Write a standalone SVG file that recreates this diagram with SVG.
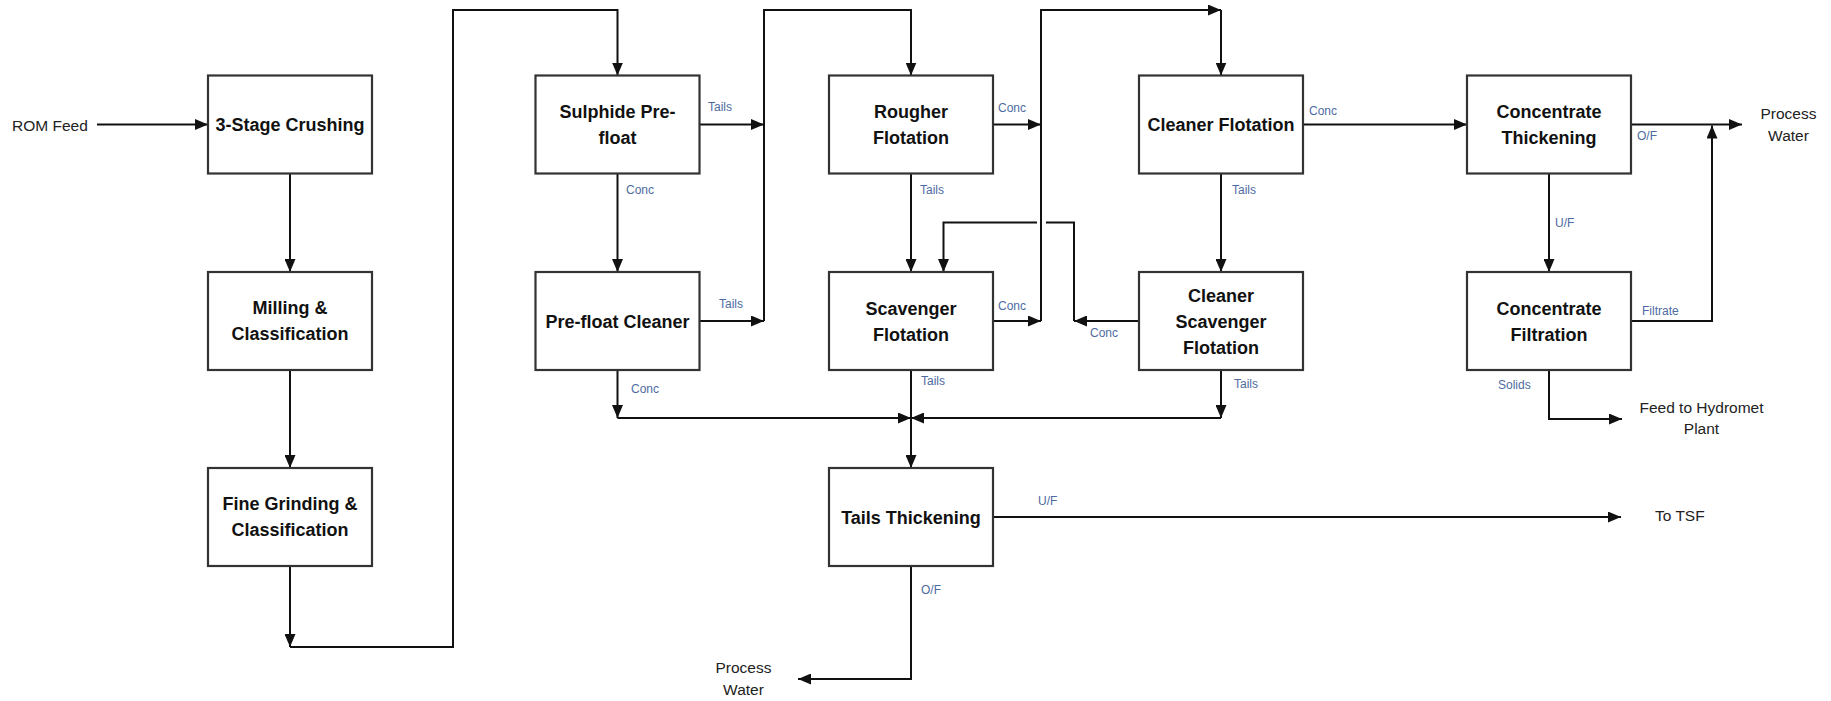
<svg xmlns="http://www.w3.org/2000/svg" width="1831" height="701" viewBox="0 0 1831 701">
<style>
.box{fill:#fff;stroke:#333;stroke-width:2.2}
.bt{font-family:"Liberation Sans",Arial,sans-serif;font-weight:bold;font-size:18px;fill:#111;text-anchor:middle}
.ln{fill:none;stroke:#111;stroke-width:2}
.lb{font-family:"Liberation Sans",Arial,sans-serif;font-size:12px;fill:#4e6b9f}
.ot{font-family:"Liberation Sans",Arial,sans-serif;font-size:15.5px;fill:#222}
</style>
<defs>
<marker id="ah" viewBox="0 0 13 11" refX="13" refY="5.5" markerWidth="13" markerHeight="11" markerUnits="userSpaceOnUse" orient="auto">
<path d="M0,0 L13,5.5 L0,11 z" fill="#111"/>
</marker>
</defs>
<rect width="1831" height="701" fill="#fff"/>

<g id="connectors">
<path class="ln" d="M97,124.5 H208" marker-end="url(#ah)"/>
<path class="ln" d="M290,173.5 V272" marker-end="url(#ah)"/>
<path class="ln" d="M290,370 V468" marker-end="url(#ah)"/>
<path class="ln" d="M290,566 V647" marker-end="url(#ah)"/>
<path class="ln" d="M290,647 H453 V10 H617.5 V75.5" marker-end="url(#ah)"/>
<path class="ln" d="M699.5,124.5 H764" marker-end="url(#ah)"/>
<path class="ln" d="M617.5,173.5 V272" marker-end="url(#ah)"/>
<path class="ln" d="M699.5,321 H764" marker-end="url(#ah)"/>
<path class="ln" d="M764,321 V10 H911 V75.5" marker-end="url(#ah)"/>
<path class="ln" d="M993,124.5 H1041" marker-end="url(#ah)"/>
<path class="ln" d="M993,321 H1041" marker-end="url(#ah)"/>
<path class="ln" d="M1041,321 V10 H1221" marker-end="url(#ah)"/>
<path class="ln" d="M1221,10 V75.5" marker-end="url(#ah)"/>
<path class="ln" d="M911,173.5 V272" marker-end="url(#ah)"/>
<path class="ln" d="M1303,124.5 H1467" marker-end="url(#ah)"/>
<path class="ln" d="M1221,173.5 V272" marker-end="url(#ah)"/>
<path class="ln" d="M1139,321 H1074" marker-end="url(#ah)"/>
<path class="ln" d="M1074,321 V222.5 H1046"/>
<path class="ln" d="M1037,222.5 H943.5 V272" marker-end="url(#ah)"/>
<path class="ln" d="M617.5,370 V418" marker-end="url(#ah)"/>
<path class="ln" d="M617.5,418 H911" marker-end="url(#ah)"/>
<path class="ln" d="M911,370 V468" marker-end="url(#ah)"/>
<path class="ln" d="M1221,370 V418" marker-end="url(#ah)"/>
<path class="ln" d="M1221,418 H911" marker-end="url(#ah)"/>
<path class="ln" d="M993,517 H1621" marker-end="url(#ah)"/>
<path class="ln" d="M911,566 V679 H798" marker-end="url(#ah)"/>
<path class="ln" d="M1631,124.5 H1742" marker-end="url(#ah)"/>
<path class="ln" d="M1631,321 H1712 V125.5" marker-end="url(#ah)"/>
<path class="ln" d="M1549,173.5 V272" marker-end="url(#ah)"/>
<path class="ln" d="M1549,370 V419 H1622" marker-end="url(#ah)"/>
</g>

<g id="labels">
<text class="ot" x="12" y="130.5">ROM Feed</text>
<text class="lb" x="708" y="111">Tails</text>
<text class="lb" x="626" y="194">Conc</text>
<text class="lb" x="719" y="308">Tails</text>
<text class="lb" x="998" y="112">Conc</text>
<text class="lb" x="920" y="194">Tails</text>
<text class="lb" x="998" y="310">Conc</text>
<text class="lb" x="1309" y="115">Conc</text>
<text class="lb" x="1232" y="194">Tails</text>
<text class="lb" x="1090" y="337">Conc</text>
<text class="lb" x="1637" y="140">O/F</text>
<text class="lb" x="1555" y="227">U/F</text>
<text class="lb" x="1642" y="315">Filtrate</text>
<text class="lb" x="1498" y="389">Solids</text>
<text class="lb" x="631" y="393">Conc</text>
<text class="lb" x="921" y="385">Tails</text>
<text class="lb" x="1234" y="388">Tails</text>
<text class="lb" x="1038" y="505">U/F</text>
<text class="lb" x="921" y="594">O/F</text>
<text class="ot" x="1788.5" y="119" text-anchor="middle">Process</text>
<text class="ot" x="1788.5" y="141" text-anchor="middle">Water</text>
<text class="ot" x="1701.5" y="413" text-anchor="middle">Feed to Hydromet</text>
<text class="ot" x="1701.5" y="434" text-anchor="middle">Plant</text>
<text class="ot" x="1655" y="520.5">To TSF</text>
<text class="ot" x="743.5" y="673" text-anchor="middle">Process</text>
<text class="ot" x="743.5" y="695" text-anchor="middle">Water</text>
</g>

<g id="crushing"><rect class="box" x="208" y="75.5" width="164" height="98"/><text class="bt" x="290" y="131">3-Stage Crushing</text></g>
<g id="milling"><rect class="box" x="208" y="272" width="164" height="98"/><text class="bt" x="290" y="314">Milling &amp;</text><text class="bt" x="290" y="340">Classification</text></g>
<g id="fine-grinding"><rect class="box" x="208" y="468" width="164" height="98"/><text class="bt" x="290" y="510">Fine Grinding &amp;</text><text class="bt" x="290" y="536">Classification</text></g>
<g id="sulphide-prefloat"><rect class="box" x="535.5" y="75.5" width="164" height="98"/><text class="bt" x="617.5" y="118">Sulphide Pre-</text><text class="bt" x="617.5" y="144">float</text></g>
<g id="prefloat-cleaner"><rect class="box" x="535.5" y="272" width="164" height="98"/><text class="bt" x="617.5" y="327.5">Pre-float Cleaner</text></g>
<g id="rougher"><rect class="box" x="829" y="75.5" width="164" height="98"/><text class="bt" x="911" y="118">Rougher</text><text class="bt" x="911" y="144">Flotation</text></g>
<g id="scavenger"><rect class="box" x="829" y="272" width="164" height="98"/><text class="bt" x="911" y="314.5">Scavenger</text><text class="bt" x="911" y="340.5">Flotation</text></g>
<g id="tails-thickening"><rect class="box" x="829" y="468" width="164" height="98"/><text class="bt" x="911" y="523.5">Tails Thickening</text></g>
<g id="cleaner"><rect class="box" x="1139" y="75.5" width="164" height="98"/><text class="bt" x="1221" y="131">Cleaner Flotation</text></g>
<g id="cleaner-scavenger"><rect class="box" x="1139" y="272" width="164" height="98"/><text class="bt" x="1221" y="301.5">Cleaner</text><text class="bt" x="1221" y="327.5">Scavenger</text><text class="bt" x="1221" y="353.5">Flotation</text></g>
<g id="conc-thickening"><rect class="box" x="1467" y="75.5" width="164" height="98"/><text class="bt" x="1549" y="118">Concentrate</text><text class="bt" x="1549" y="144">Thickening</text></g>
<g id="conc-filtration"><rect class="box" x="1467" y="272" width="164" height="98"/><text class="bt" x="1549" y="314.5">Concentrate</text><text class="bt" x="1549" y="340.5">Filtration</text></g>
</svg>
